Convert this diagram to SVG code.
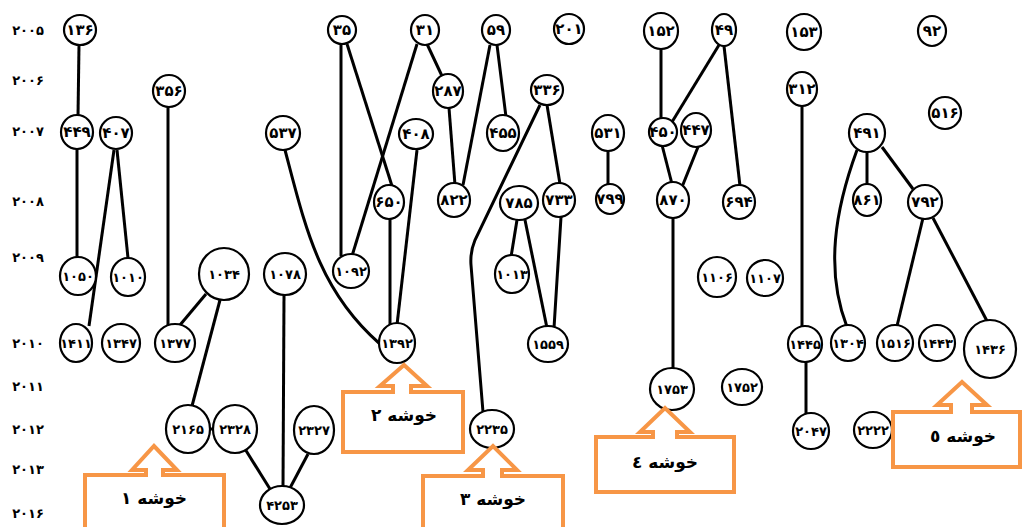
<svg xmlns="http://www.w3.org/2000/svg" width="1022" height="527" viewBox="0 0 1022 527">
<style>
.n ellipse{fill:#fff;stroke:#000;stroke-width:2.2}
.n text{font-family:"DejaVu Sans",sans-serif;font-weight:bold;font-size:15px;text-anchor:middle;fill:#000}
.n text.s{font-size:13px}
.c line,.c path{stroke:#000;stroke-width:3;fill:none}
.y text{font-family:"DejaVu Sans",sans-serif;font-weight:bold;font-size:13px;text-anchor:middle;fill:#000}
.b path{fill:#fff;stroke:#F79646;stroke-width:4}
.b text{font-family:"DejaVu Sans",sans-serif;font-weight:bold;font-size:17px;text-anchor:middle;fill:#000}
</style>
<rect width="1022" height="527" fill="#fff"/>
<g class="y">
<text x="28" y="35">۲۰۰۵</text>
<text x="28" y="85">۲۰۰۶</text>
<text x="28" y="136">۲۰۰۷</text>
<text x="28" y="206">۲۰۰۸</text>
<text x="28" y="262">۲۰۰۹</text>
<text x="28" y="348">۲۰۱۰</text>
<text x="28" y="391">۲۰۱۱</text>
<text x="28" y="434">۲۰۱۲</text>
<text x="28" y="474">۲۰۱۳</text>
<text x="28" y="518">۲۰۱۶</text>
</g>
<g class="c" id="connectors">
<line x1="79" y1="45" x2="78" y2="116"/>
<line x1="77" y1="149" x2="77" y2="258"/>
<line x1="117" y1="150" x2="128" y2="258"/>
<line x1="114" y1="150" x2="89" y2="326"/>
<line x1="168" y1="107" x2="168" y2="325"/>
<line x1="206" y1="294" x2="180" y2="325"/>
<line x1="220" y1="300" x2="192" y2="406"/>
<line x1="208" y1="429" x2="215" y2="429"/>
<line x1="245" y1="449" x2="270" y2="489"/>
<line x1="284" y1="295" x2="283" y2="487"/>
<line x1="308" y1="454" x2="290" y2="488"/>
<line x1="341" y1="44" x2="341" y2="256"/>
<line x1="347" y1="44" x2="392" y2="186"/>
<line x1="417" y1="44" x2="352" y2="256"/>
<line x1="427" y1="44" x2="442" y2="76"/>
<line x1="490" y1="45" x2="463" y2="185"/>
<line x1="497" y1="45" x2="506" y2="117"/>
<line x1="449" y1="108" x2="455" y2="185"/>
<path d="M 285 150 C 305 225, 318 290, 380 344"/>
<line x1="417" y1="150" x2="397" y2="325"/>
<line x1="390" y1="218" x2="390" y2="325"/>
<line x1="517" y1="220" x2="511" y2="257"/>
<line x1="525" y1="220" x2="547" y2="328"/>
<line x1="561" y1="217" x2="554" y2="328"/>
<path d="M 540 105 L 475 240 Q 470 252 471 265 L 483 412"/>
<line x1="547" y1="105" x2="560" y2="184"/>
<line x1="661" y1="49" x2="661" y2="119"/>
<line x1="719" y1="45" x2="672" y2="122"/>
<line x1="724" y1="46" x2="740" y2="186"/>
<line x1="608" y1="151" x2="608" y2="186"/>
<line x1="662" y1="145" x2="672" y2="184"/>
<line x1="698" y1="147" x2="682" y2="187"/>
<line x1="673" y1="218" x2="673" y2="369"/>
<line x1="802" y1="106" x2="802" y2="327"/>
<line x1="806" y1="362" x2="806" y2="414"/>
<path d="M 857 150 C 835 210, 825 270, 847 327"/>
<line x1="867" y1="152" x2="867" y2="185"/>
<line x1="882" y1="147" x2="913" y2="189"/>
<line x1="923" y1="218" x2="897" y2="326"/>
<line x1="933" y1="218" x2="987" y2="321"/>
</g>
<g class="n" id="n136"><ellipse cx="80" cy="30" rx="16" ry="15"/><text x="80" y="35">۱۳۶</text></g>
<g class="n" id="n449"><ellipse cx="77" cy="132" rx="16" ry="17"/><text x="77" y="137">۴۴۹</text></g>
<g class="n" id="n407"><ellipse cx="116" cy="133" rx="16" ry="16"/><text x="116" y="138">۴۰۷</text></g>
<g class="n" id="n356"><ellipse cx="169" cy="91" rx="16" ry="16"/><text x="169" y="96">۳۵۶</text></g>
<g class="n" id="n1050"><ellipse cx="78" cy="276" rx="18" ry="19"/><text class="s" x="78" y="281">۱۰۵۰</text></g>
<g class="n" id="n1010"><ellipse cx="128" cy="277" rx="17" ry="19"/><text class="s" x="128" y="282">۱۰۱۰</text></g>
<g class="n" id="n1034"><ellipse cx="224" cy="274" rx="25" ry="26"/><text class="s" x="224" y="279">۱۰۳۴</text></g>
<g class="n" id="n1411"><ellipse cx="76" cy="343" rx="16" ry="19"/><text class="s" x="76" y="348">۱۴۱۱</text></g>
<g class="n" id="n1347"><ellipse cx="121" cy="343" rx="19" ry="19"/><text class="s" x="121" y="348">۱۳۴۷</text></g>
<g class="n" id="n1377"><ellipse cx="175" cy="343" rx="20" ry="19"/><text class="s" x="175" y="348">۱۳۷۷</text></g>
<g class="n" id="n2165"><ellipse cx="188" cy="429" rx="22" ry="24"/><text class="s" x="188" y="434">۲۱۶۵</text></g>
<g class="n" id="n2328"><ellipse cx="235" cy="429" rx="22" ry="24"/><text class="s" x="235" y="434">۲۳۲۸</text></g>
<g class="n" id="n2327"><ellipse cx="314" cy="430" rx="20" ry="24"/><text class="s" x="314" y="435">۲۳۲۷</text></g>
<g class="n" id="n4253"><ellipse cx="282" cy="505" rx="22" ry="19"/><text class="s" x="282" y="510">۴۲۵۳</text></g>
<g class="n" id="n1078"><ellipse cx="285" cy="274" rx="21" ry="21"/><text class="s" x="285" y="279">۱۰۷۸</text></g>
<g class="n" id="n35"><ellipse cx="342" cy="30" rx="14" ry="14"/><text x="342" y="35">۳۵</text></g>
<g class="n" id="n31"><ellipse cx="425" cy="30" rx="14" ry="15"/><text x="425" y="35">۳۱</text></g>
<g class="n" id="n59"><ellipse cx="496" cy="30" rx="14" ry="15"/><text x="496" y="35">۵۹</text></g>
<g class="n" id="n287"><ellipse cx="448" cy="91" rx="15" ry="17"/><text x="448" y="96">۲۸۷</text></g>
<g class="n" id="n537"><ellipse cx="283" cy="133" rx="17" ry="17"/><text x="283" y="138">۵۳۷</text></g>
<g class="n" id="n408"><ellipse cx="416" cy="134" rx="17" ry="15"/><text x="416" y="139">۴۰۸</text></g>
<g class="n" id="n455"><ellipse cx="503" cy="133" rx="16" ry="18"/><text x="503" y="138">۴۵۵</text></g>
<g class="n" id="n650"><ellipse cx="389" cy="202" rx="15" ry="17"/><text x="389" y="207">۶۵۰</text></g>
<g class="n" id="n822"><ellipse cx="454" cy="200" rx="16" ry="17"/><text x="454" y="205">۸۲۲</text></g>
<g class="n" id="n785"><ellipse cx="519" cy="203" rx="19" ry="17"/><text x="519" y="208">۷۸۵</text></g>
<g class="n" id="n733"><ellipse cx="559" cy="200" rx="16" ry="17"/><text x="559" y="205">۷۳۳</text></g>
<g class="n" id="n336"><ellipse cx="547" cy="90" rx="16" ry="15"/><text x="547" y="95">۳۳۶</text></g>
<g class="n" id="n1092"><ellipse cx="351" cy="271" rx="18" ry="17"/><text class="s" x="351" y="276">۱۰۹۲</text></g>
<g class="n" id="n1013"><ellipse cx="512" cy="274" rx="17" ry="19"/><text class="s" x="512" y="279">۱۰۱۳</text></g>
<g class="n" id="n1392"><ellipse cx="397" cy="343" rx="18" ry="20"/><text class="s" x="397" y="348">۱۳۹۲</text></g>
<g class="n" id="n1559"><ellipse cx="548" cy="344" rx="20" ry="18"/><text class="s" x="548" y="349">۱۵۵۹</text></g>
<g class="n" id="n2235"><ellipse cx="492" cy="429" rx="22" ry="19"/><text class="s" x="492" y="434">۲۲۳۵</text></g>
<g class="n" id="n201"><ellipse cx="569" cy="29" rx="15" ry="15"/><text x="569" y="34">۲۰۱</text></g>
<g class="n" id="n152"><ellipse cx="661" cy="31" rx="17" ry="18"/><text x="661" y="36">۱۵۲</text></g>
<g class="n" id="n49"><ellipse cx="724" cy="30" rx="12" ry="16"/><text x="724" y="35">۴۹</text></g>
<g class="n" id="n531"><ellipse cx="608" cy="133" rx="16" ry="18"/><text x="608" y="138">۵۳۱</text></g>
<g class="n" id="n450"><ellipse cx="663" cy="132" rx="14" ry="14"/><text x="663" y="137">۴۵۰</text></g>
<g class="n" id="n447"><ellipse cx="696" cy="130" rx="15" ry="17"/><text x="696" y="135">۴۴۷</text></g>
<g class="n" id="n799"><ellipse cx="610" cy="199" rx="14" ry="15"/><text x="610" y="204">۷۹۹</text></g>
<g class="n" id="n870"><ellipse cx="673" cy="200" rx="16" ry="18"/><text x="673" y="205">۸۷۰</text></g>
<g class="n" id="n694"><ellipse cx="739" cy="202" rx="16" ry="17"/><text x="739" y="207">۶۹۴</text></g>
<g class="n" id="n1106"><ellipse cx="717" cy="277" rx="19" ry="20"/><text class="s" x="717" y="282">۱۱۰۶</text></g>
<g class="n" id="n1107"><ellipse cx="765" cy="278" rx="18" ry="18"/><text class="s" x="765" y="283">۱۱۰۷</text></g>
<g class="n" id="n1753"><ellipse cx="672" cy="389" rx="22" ry="21"/><text class="s" x="672" y="394">۱۷۵۳</text></g>
<g class="n" id="n1752"><ellipse cx="742" cy="387" rx="20" ry="18"/><text class="s" x="742" y="392">۱۷۵۲</text></g>
<g class="n" id="n153"><ellipse cx="804" cy="32" rx="17" ry="18"/><text x="804" y="37">۱۵۳</text></g>
<g class="n" id="n92"><ellipse cx="932" cy="31" rx="14" ry="15"/><text x="932" y="36">۹۲</text></g>
<g class="n" id="n312"><ellipse cx="802" cy="89" rx="15" ry="17"/><text x="802" y="94">۳۱۲</text></g>
<g class="n" id="n516"><ellipse cx="945" cy="113" rx="16" ry="16"/><text x="945" y="118">۵۱۶</text></g>
<g class="n" id="n491"><ellipse cx="867" cy="133" rx="18" ry="19"/><text x="867" y="138">۴۹۱</text></g>
<g class="n" id="n861"><ellipse cx="867" cy="200" rx="14" ry="16"/><text x="867" y="205">۸۶۱</text></g>
<g class="n" id="n792"><ellipse cx="925" cy="202" rx="17" ry="17"/><text x="925" y="207">۷۹۲</text></g>
<g class="n" id="n1445"><ellipse cx="805" cy="344" rx="17" ry="18"/><text class="s" x="805" y="349">۱۴۴۵</text></g>
<g class="n" id="n1304"><ellipse cx="848" cy="343" rx="17" ry="18"/><text class="s" x="848" y="348">۱۳۰۴</text></g>
<g class="n" id="n1516"><ellipse cx="895" cy="343" rx="18" ry="18"/><text class="s" x="895" y="348">۱۵۱۶</text></g>
<g class="n" id="n1443"><ellipse cx="937" cy="343" rx="18" ry="18"/><text class="s" x="937" y="348">۱۴۴۳</text></g>
<g class="n" id="n1436"><ellipse cx="990" cy="349" rx="26" ry="29"/><text class="s" x="990" y="354">۱۴۳۶</text></g>
<g class="n" id="n2047"><ellipse cx="811" cy="431" rx="18" ry="18"/><text class="s" x="811" y="436">۲۰۴۷</text></g>
<g class="n" id="n2222"><ellipse cx="873" cy="430" rx="19" ry="18"/><text class="s" x="873" y="435">۲۲۲۲</text></g>
<g class="b" id="cluster1"><path d="M85 532 L85 475 L146 475 L146 470 L132 470 L154 446 L177 470 L163 470 L163 475 L224 475 L224 532 Z"/><text x="154" y="504">خوشه ۱</text></g>
<g class="b" id="cluster2"><path d="M343 392 L393 392 L393 386 L380 386 L404 365 L427 386 L411 386 L411 392 L463 392 L463 452 L343 452 Z"/><text x="404" y="421">خوشه ۲</text></g>
<g class="b" id="cluster3"><path d="M423 532 L423 476 L483 476 L483 470 L468 470 L493 446 L517 470 L502 470 L502 476 L563 476 L563 532 Z"/><text x="493" y="505">خوشه ۳</text></g>
<g class="b" id="cluster4"><path d="M596 437 L653 437 L653 432 L640 432 L665 408 L690 432 L677 432 L677 437 L734 437 L734 492 L596 492 Z"/><text x="665" y="468">خوشه ٤</text></g>
<g class="b" id="cluster5"><path d="M893 412 L951 412 L951 405 L937 405 L962 382 L987 405 L972 405 L972 412 L1020 412 L1020 467 L893 467 Z"/><text x="963" y="442">خوشه ٥</text></g>
</svg>
